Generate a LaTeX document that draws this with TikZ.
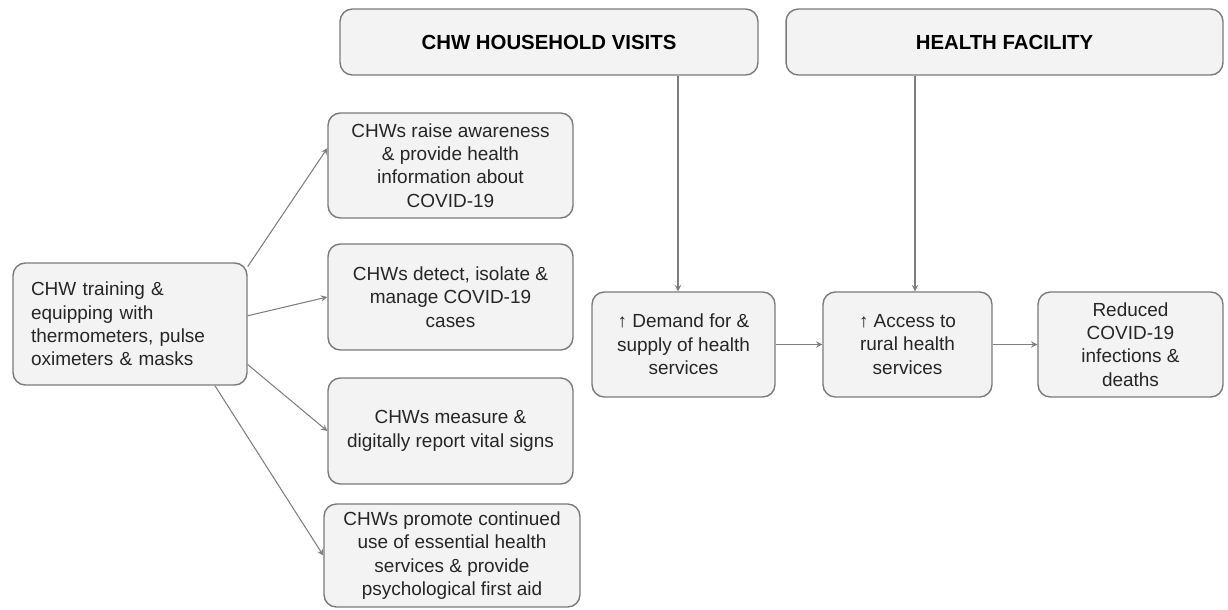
\documentclass[tikz,border=0pt]{standalone}
\usepackage{fontspec}
\setmainfont{Liberation Sans}
\usepackage{tikz}
\usetikzlibrary{shapes.geometric, arrows, positioning}

\definecolor{boxfill}{HTML}{F3F3F3}
\definecolor{boxline}{HTML}{7A7A7A}
\definecolor{arrowgray}{HTML}{7E7E7E}
\definecolor{textdark}{HTML}{262626}

\begin{document}
\begin{tikzpicture}[
    x=0.02cm, y=-0.02cm,
    header/.style={rectangle, rounded corners=7pt, minimum height=1.32cm, text centered, draw=boxline, line width=0.8pt, fill=boxfill, text=black, font=\bfseries\fontsize{11.6pt}{14pt}\selectfont},
    process/.style={rectangle, rounded corners=7pt, minimum height=2.1cm, align=center, draw=boxline, line width=0.8pt, fill=boxfill, text=textdark, font=\fontsize{10.8pt}{13.3pt}\selectfont},
    input/.style={process, align=left, text width=3.96cm, inner xsep=0.36cm},
    arrow/.style={->,>=stealth, draw=arrowgray, line width=0.6pt}
]
\useasboundingbox (0,0) rectangle (1228,609);

% Headers
\node (visits) [header, minimum width=8.36cm] at (549,42) {CHW HOUSEHOLD VISITS};
\node (facility) [header, minimum width=8.74cm] at (1004.5,42) {HEALTH FACILITY};

% Inputs
\node (train) [input, minimum height=2.44cm] at (130,324) {CHW training \&\\equipping with\\thermometers, pulse\\oximeters \& masks};

% Activities
\node (aware) [process, minimum width=4.9cm] at (450.5,165.5) {CHWs raise awareness\\\& provide health\\information about\\COVID-19};
\node (detect) [process, minimum width=4.9cm, minimum height=2.12cm] at (450.5,297) {CHWs detect, isolate \&\\manage COVID-19\\cases};
\node (measure) [process, minimum width=4.9cm, minimum height=2.12cm] at (450.5,431) {CHWs measure \&\\digitally report vital signs};
\node (promote) [process, minimum width=5.12cm, minimum height=2.06cm] at (452,555.5) {CHWs promote continued\\use of essential health\\services \& provide\\psychological first aid};

% Outcomes
\node (demand) [process, minimum width=3.66cm] at (683.5,344.5) {↑ Demand for \&\\supply of health\\services};
\node (access) [process, minimum width=3.38cm] at (907.5,344.5) {↑ Access to\\rural health\\services};
\node (reduced) [process, minimum width=3.7cm] at (1130.5,344.5) {Reduced\\COVID-19\\infections \&\\deaths};

% Arrows
\draw [arrow] (train.26) -- (aware.172);
\draw [arrow] (train.4) -- (detect.west);
\draw [arrow] (train.-19) -- (measure.west);
\draw [arrow] (train.-36) -- (promote.west);
\draw [arrow] ([xshift=-0.11cm]demand.north |- visits.south) -- ([xshift=-0.11cm]demand.north);
\draw [arrow] ([xshift=0.15cm]access.north |- facility.south) -- ([xshift=0.15cm]access.north);
\draw [arrow] (demand) -- (access);
\draw [arrow] (access) -- (reduced);

\end{tikzpicture}
\end{document}
